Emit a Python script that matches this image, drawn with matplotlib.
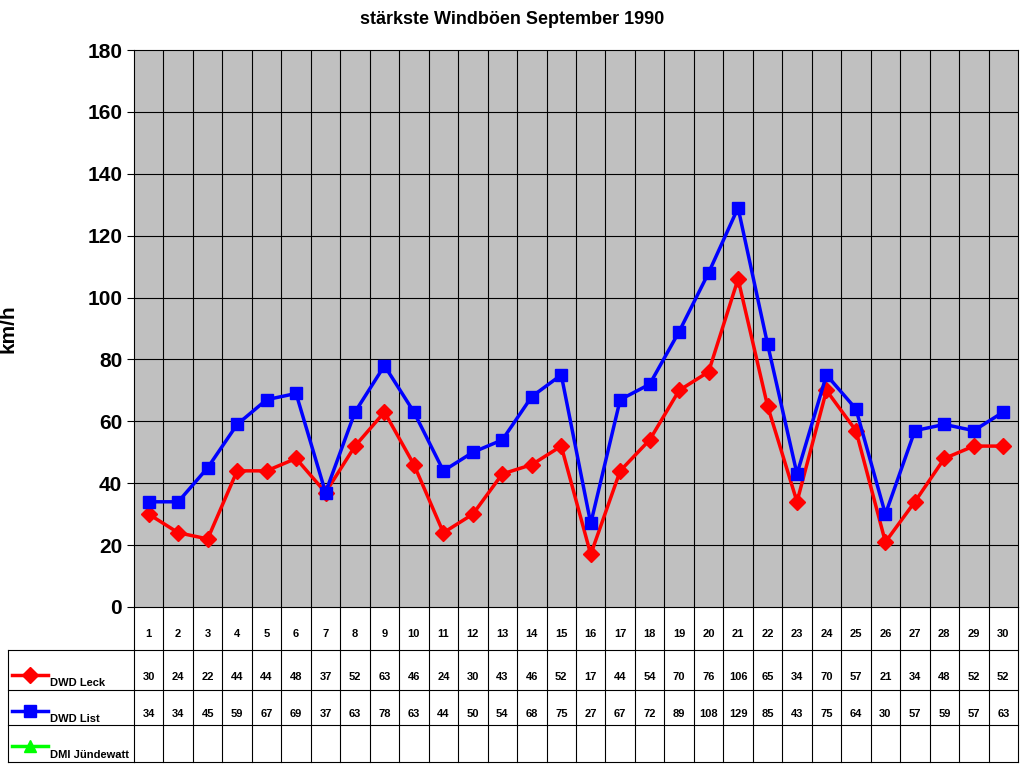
import matplotlib
matplotlib.use("Agg")
import matplotlib.pyplot as plt
import numpy as np

plt.rcParams['font.family'] = ['Liberation Sans', 'DejaVu Sans']

days = list(range(1, 31))
leck = [30,24,22,44,44,48,37,52,63,46,24,30,43,46,52,17,44,54,70,76,106,65,34,70,57,21,34,48,52,52]
lst = [34,34,45,59,67,69,37,63,78,63,44,50,54,68,75,27,67,72,89,108,129,85,43,75,64,30,57,59,57,63]
juende = [None]*30
series = [("DWD Leck", leck, '#FF0000', 'D', 8), ("DWD List", lst, '#0000FF', 's', 9),
          ("DMI Jündewatt", juende, '#00FF00', '^', 9)]

W, H = 1024, 768
fig = plt.figure(figsize=(10.24, 7.68), dpi=100)
L, R, T, B = 134, 1018, 50, 607
ax = fig.add_axes([L/W, 1-B/H, (R-L)/W, (B-T)/H])
ax.set_facecolor('#C0C0C0')
x = np.arange(1, 31)
for name, vals, c, m, ms in series:
    v = [np.nan if a is None else a for a in vals]
    ax.plot(x, v, color=c, marker=m, markersize=ms, lw=2.5)
ax.set_xlim(0.5, 30.5)
ax.set_ylim(0, 180)
ax.set_yticks(range(0, 181, 20))
ax.set_yticklabels([str(t) for t in range(0, 181, 20)], fontsize=15, fontweight='bold')
ax.set_xticks([])
for xv in np.arange(1.5, 30.5, 1):
    ax.axvline(xv, color='black', lw=0.8, zorder=0)
for yv in range(20, 180, 20):
    ax.axhline(yv, color='black', lw=0.8, zorder=0)
ax.set_ylabel('km/h', fontsize=15, fontweight='bold', labelpad=50)
ax.tick_params(axis='y', length=5)
fig.text(0.5, 1-20/H, 'stärkste Windböen September 1990', ha='center', va='center',
         fontsize=13, fontweight='bold')

# table
tb = fig.add_axes([L/W, 1-762/H, (R-L)/W, 155/H])
tb.set_xlim(0.5, 30.5); tb.set_ylim(155, 0); tb.axis('off')
rows = [0, 43, 83, 118, 155]
for xv in np.arange(0.5, 31, 1):
    tb.plot([xv, xv], [0, 155], color='black', lw=0.8, clip_on=False)
for yv in rows[1:]:
    tb.plot([0.5, 30.5], [yv, yv], color='black', lw=0.8, clip_on=False)
for i, d in enumerate(days):
    tb.text(x[i], 27, str(d), ha='center', va='center', fontsize=8, fontweight='bold')
    tb.text(x[i], 70, str(leck[i]), ha='center', va='center', fontsize=8, fontweight='bold')
    tb.text(x[i], 107, str(lst[i]), ha='center', va='center', fontsize=8, fontweight='bold')

lg = fig.add_axes([8/W, 1-762/H, (L-8)/W, 112/H])
lg.set_xlim(8, L); lg.set_ylim(762, 650); lg.axis('off')
for yv in [650, 690, 725, 762]:
    lg.plot([8, L], [yv, yv], color='black', lw=0.8, clip_on=False)
lg.plot([8, 8], [650, 762], color='black', lw=0.8, clip_on=False)
ys = [(675, 683), (711, 719), (746, 755)]
for (name, vals, c, m, ms), (ym, yt) in zip(series, ys):
    lg.plot([12, 48], [ym, ym], color=c, lw=2.5)
    lg.plot([30], [ym], color=c, marker=m, markersize=ms)
    lg.text(50, yt, name, ha='left', va='center', fontsize=8, fontweight='bold')

fig.savefig('out.png', dpi=100)
